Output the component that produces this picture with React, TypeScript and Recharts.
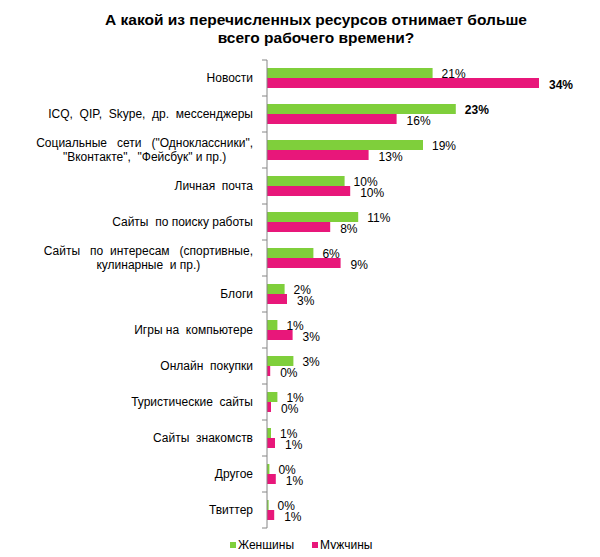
import React from 'react';
import { BarChart, Bar, XAxis, YAxis, Legend, LabelList } from 'recharts';

const categories = [
  'Новости',
  'ICQ,  QIP,  Skype,  др.  мессенджеры',
  'Социальные   сети   ("Одноклассники",\n"Вконтакте",  "Фейсбук" и пр.)',
  'Личная  почта',
  'Сайты  по поиску работы',
  'Сайты   по  интересам   (спортивные,\nкулинарные  и пр.)',
  'Блоги',
  'Игры на  компьютере',
  'Онлайн  покупки',
  'Туристические  сайты',
  'Сайты  знакомств',
  'Другое',
  'Твиттер',
];

const womenValues = [20.7, 23.6, 19.5, 9.7, 11.4, 5.8, 2.2, 1.3, 3.3, 1.3, 0.5, 0.3, 0.2];
const menValues = [34.0, 16.2, 12.7, 10.4, 7.9, 9.2, 2.5, 3.2, 0.4, 0.5, 1.0, 1.1, 0.9];

const womenLabels = ['21%', '23%', '19%', '10%', '11%', '6%', '2%', '1%', '3%', '1%', '1%', '0%', '0%'];
const menLabels = ['34%', '16%', '13%', '10%', '8%', '9%', '3%', '3%', '0%', '0%', '1%', '1%', '1%'];

const seriesNames = ['Женщины', 'Мужчины'];
const xTicks = [0, 10, 20, 30, 40];

const GREEN = '#7fcf3b';
const PINK = '#e8177a';
const FONT = '"Liberation Sans", Arial, sans-serif';

const CHART_W = 584;
const CHART_H = 541;
const MARGIN = { top: 52, right: 5, bottom: 21, left: 0 };
const Y_AXIS_W = 259;
const TICK_SIZE = 5;
const TICK_MARGIN = 9;
const BAND = (CHART_H - MARGIN.top - MARGIN.bottom) / categories.length;

const data = categories.map((name, i) => ({
  name,
  women: womenValues[i],
  men: menValues[i],
}));

const argMax = (arr: number[]) => arr.reduce((best, v, i) => (v > arr[best] ? i : best), 0);
const womenMax = argMax(womenValues);
const menMax = argMax(menValues);

let ctx: CanvasRenderingContext2D | null = null;
const measure = (s: string) => {
  if (!ctx) {
    const c = document.createElement('canvas');
    ctx = c.getContext('2d');
  }
  if (!ctx) return s.length * 6;
  ctx.font = '12px "Liberation Sans"';
  return ctx.measureText(s).width;
};

const CategoryTick = (props: any) => {
  const { x, y, payload, index } = props;
  const lines = String(payload.value).split('\n');
  const axisX = x + TICK_SIZE + TICK_MARGIN;
  const half = BAND / 2;
  const maxW = Math.max(...lines.map(measure));
  const lineH = 14;
  const multi = lines.length > 1;
  return (
    <g>
      <line x1={axisX - TICK_SIZE} x2={axisX} y1={y - half} y2={y - half} stroke="#868686" />
      {index === categories.length - 1 && (
        <line x1={axisX - TICK_SIZE} x2={axisX} y1={y + half} y2={y + half} stroke="#868686" />
      )}
      {lines.map((ln, i) => (
        <text
          key={i}
          x={multi ? x - maxW / 2 : x}
          y={y + (i - (lines.length - 1) / 2) * lineH}
          textAnchor={multi ? 'middle' : 'end'}
          dominantBaseline="central"
          fontSize={12}
          fontFamily={FONT}
          fill="#000"
          style={{ whiteSpace: 'pre' }}
        >
          {ln}
        </text>
      ))}
    </g>
  );
};

const makeValueLabel = (labels: string[], boldIndex: number, dx: number, dyOff: number) => (props: any) => {
  const { x, y, width, height, index } = props;
  return (
    <text
      x={Number(x) + Number(width) + dx}
      y={Number(y) + Number(height) / 2 + dyOff}
      dominantBaseline="central"
      fontSize={12}
      fontFamily={FONT}
      fontWeight={index === boldIndex ? 'bold' : 'normal'}
      fill="#000"
    >
      {labels[index]}
    </text>
  );
};

const LegendContent = () => (
  <div style={{ display: 'flex', alignItems: 'center', fontFamily: FONT, fontSize: 12, color: '#000', whiteSpace: 'nowrap' }}>
    {[GREEN, PINK].map((c, i) => (
      <span key={i} style={{ display: 'inline-flex', alignItems: 'center', marginRight: i === 0 ? 18 : 0 }}>
        <span style={{ display: 'inline-block', width: 6, height: 6, background: c, marginRight: 2 }} />
        {seriesNames[i]}
      </span>
    ))}
  </div>
);

export default function App() {
  return (
    <div style={{ position: 'relative', width: CHART_W, height: CHART_H, background: '#fff' }}>
      <div
        style={{
          position: 'absolute',
          top: 3,
          left: 0,
          width: 616,
          textAlign: 'center',
          fontFamily: FONT,
          fontWeight: 'bold',
          fontSize: 15.5,
          lineHeight: '18px',
          color: '#000',
          zIndex: 2,
        }}
      >
        А какой из перечисленных ресурсов отнимает больше
        <br />
        всего рабочего времени?
      </div>
      <BarChart
        width={CHART_W}
        height={CHART_H}
        data={data}
        layout="vertical"
        margin={MARGIN}
        barGap={0}
      >
        <XAxis type="number" domain={[0, 40]} ticks={xTicks} hide />
        <YAxis
          type="category"
          dataKey="name"
          width={Y_AXIS_W}
          axisLine={{ stroke: '#868686' }}
          tickLine={false}
          tickSize={TICK_SIZE}
          tickMargin={TICK_MARGIN}
          interval={0}
          tick={<CategoryTick />}
        />
        <Legend
          verticalAlign="middle"
          align="center"
          layout="horizontal"
          wrapperStyle={{ top: 530, left: 222, width: 'auto' }}
          content={<LegendContent />}
        />
        <Bar dataKey="women" name={seriesNames[0]} fill={GREEN} barSize={10} isAnimationActive={false}>
          <LabelList dataKey="women" content={makeValueLabel(womenLabels, womenMax, 9, 0.5)} />
        </Bar>
        <Bar dataKey="men" name={seriesNames[1]} fill={PINK} barSize={10} isAnimationActive={false}>
          <LabelList dataKey="men" content={makeValueLabel(menLabels, menMax, 10, 2)} />
        </Bar>
      </BarChart>
    </div>
  );
}
